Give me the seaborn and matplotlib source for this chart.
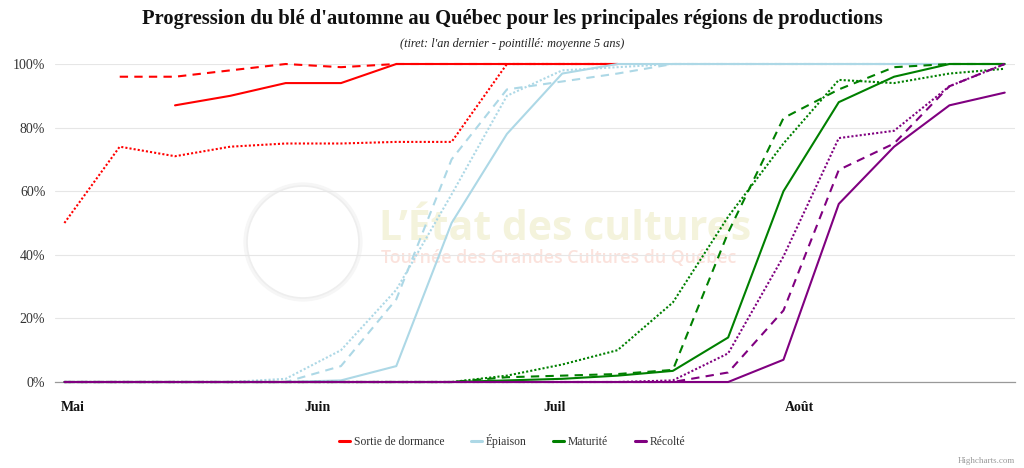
import matplotlib
matplotlib.use("Agg")
import matplotlib.pyplot as plt
import matplotlib.dates as mdates
from matplotlib.lines import Line2D
from matplotlib.patches import Circle
import seaborn as sns
import pandas as pd
import numpy as np

# ---------------- data ----------------
dates = ["2023-04-30", "2023-05-07", "2023-05-14", "2023-05-21", "2023-05-28",
         "2023-06-04", "2023-06-11", "2023-06-18", "2023-06-25", "2023-07-02",
         "2023-07-09", "2023-07-16", "2023-07-23", "2023-07-30", "2023-08-06",
         "2023-08-13", "2023-08-20", "2023-08-27"]

stages = ["Sortie de dormance", "Épiaison", "Maturité", "Récolté"]
kinds = ["actuel", "an dernier", "moyenne 5 ans"]

N = None
dormance_actuel = [N, N, 87, 90, 94, 94, 100, 100, 100, 100, 100, N, N, N, N, N, N, N]
dormance_dernier = [N, 96, 96, 98, 100, 99, 100, 100, 100, 100, 100, N, N, N, N, N, N, N]
dormance_moyenne = [50, 74, 71, 74, 75, 75, 75.5, 75.5, 100, 100, 100, N, N, N, N, N, N, N]

epiaison_actuel = [0, 0, 0, 0, 0, 0.5, 5, 50, 78, 97, 100, 100, 100, 100, 100, 100, 100, 100]
epiaison_dernier = [0, 0, 0, 0, 0, 5, 26, 70, 92, 94.5, 97, 100, 100, 100, 100, 100, 100, 100]
epiaison_moyenne = [0, 0, 0, 0, 1, 10, 29, 59, 90, 98, 99, 100, 100, 100, 100, 100, 100, 100]

maturite_actuel = [0, 0, 0, 0, 0, 0, 0, 0, 0.5, 1, 2, 3.5, 14, 60, 88, 96, 100, 100]
maturite_dernier = [0, 0, 0, 0, 0, 0, 0, 0, 1.5, 2, 2.5, 3.8, 47, 83, 92, 99, 100, 100]
maturite_moyenne = [0, 0, 0, 0, 0, 0, 0, 0, 2, 5.5, 10, 25, 52, 75, 95, 94, 97, 98.5]

recolte_actuel = [0, 0, 0, 0, 0, 0, 0, 0, 0, 0, 0, 0, 0, 7, 56, 74, 87, 91]
recolte_dernier = [0, 0, 0, 0, 0, 0, 0, 0, 0, 0, 0, 0, 3, 22.5, 66.7, 75, 93, 100]
recolte_moyenne = [0, 0, 0, 0, 0, 0, 0, 0, 0, 0, 0, 0.5, 9, 39.5, 76.7, 79, 93, 100]

series = {
    ("Sortie de dormance", "actuel"): dormance_actuel,
    ("Sortie de dormance", "an dernier"): dormance_dernier,
    ("Sortie de dormance", "moyenne 5 ans"): dormance_moyenne,
    ("Épiaison", "actuel"): epiaison_actuel,
    ("Épiaison", "an dernier"): epiaison_dernier,
    ("Épiaison", "moyenne 5 ans"): epiaison_moyenne,
    ("Maturité", "actuel"): maturite_actuel,
    ("Maturité", "an dernier"): maturite_dernier,
    ("Maturité", "moyenne 5 ans"): maturite_moyenne,
    ("Récolté", "actuel"): recolte_actuel,
    ("Récolté", "an dernier"): recolte_dernier,
    ("Récolté", "moyenne 5 ans"): recolte_moyenne,
}

rows = []
for (stage, kind), vals in series.items():
    for d, v in zip(dates, vals):
        if v is not None:
            rows.append({"date": pd.Timestamp(d), "valeur": v, "stade": stage, "type": kind})
df = pd.DataFrame(rows)

colors = {"Sortie de dormance": "#ff0000", "Épiaison": "#add8e6",
          "Maturité": "#008000", "Récolté": "#800080"}
dashes = {"actuel": "", "an dernier": (4, 3), "moyenne 5 ans": (1, 1)}

# ---------------- figure ----------------
sns.set_theme(style="white")
plt.rcParams["font.family"] = ["Liberation Serif", "DejaVu Serif"]

W, H = 1024, 468
fig = plt.figure(figsize=(W / 100, H / 100), dpi=100)
fig.patch.set_facecolor("white")

L, R, T, B = 55, 1015, 64, 382
ax = fig.add_axes([L / W, 1 - B / H, (R - L) / W, (B - T) / H])
ax.set_facecolor("none")
ax.set_zorder(2)

# watermark (behind the plot)
for r, c, lw in [(0.575, "#f6f6f6", 3.0), (0.56, "#eeeeee", 1.2)]:
    fig.add_artist(Circle((303 / 100, (H - 242) / 100), r, transform=fig.dpi_scale_trans,
                          facecolor="white", edgecolor=c, lw=lw, zorder=0))
fig.text(379 / W, 1 - 240 / H, "L\u2019État des cultures", fontsize=29.5,
         family=["Open Sans", "DejaVu Sans"], weight="bold",
         color="#f4f3dc", ha="left", va="baseline", zorder=0)
fig.text(381 / W, 1 - 258 / H, "Tournée des Grandes Cultures du Québec", fontsize=12.8,
         family=["Open Sans", "DejaVu Sans"], weight="semibold",
         color="#fbe2dc", ha="left", va="center", zorder=0)

sns.lineplot(data=df, x="date", y="valeur", hue="stade", style="type",
             hue_order=stages, style_order=kinds, palette=colors, dashes=dashes,
             estimator=None, errorbar=None, linewidth=1.5, legend=False, ax=ax,
             sort=True)
for ln in ax.lines:
    ln.set_clip_on(False)
    ln.set_zorder(3)

# axes
ax.set_ylim(0, 100)
ax.set_xlim(pd.Timestamp("2023-05-01") - pd.Timedelta(days=2.19),
            pd.Timestamp("2023-08-01") + pd.Timedelta(days=27.3))
ax.set_yticks([0, 20, 40, 60, 80, 100])
ax.set_yticklabels([f"{v}%" for v in [0, 20, 40, 60, 80, 100]])
ax.yaxis.grid(True, color="#e6e6e6", linewidth=0.8)
ax.xaxis.grid(False)
ax.set_axisbelow(True)
for s in ["left", "right", "top"]:
    ax.spines[s].set_visible(False)
ax.spines["bottom"].set_color("#999999")
ax.spines["bottom"].set_linewidth(0.9)
ax.spines["bottom"].set_zorder(1)

ax.xaxis.set_major_locator(mdates.MonthLocator())
month_names = {5: "Mai", 6: "Juin", 7: "Juil", 8: "Août"}
ax.xaxis.set_major_formatter(plt.FuncFormatter(lambda x, p: month_names.get(mdates.num2date(x).month, "")))
ax.tick_params(axis="x", which="major", direction="out", length=6, width=0.9,
               color="#888888", pad=8, labelsize=10)
for lab in ax.get_xticklabels():
    lab.set_fontweight("bold")
    lab.set_color("#111111")
ax.tick_params(axis="y", length=0, pad=7, labelsize=10, labelcolor="#333333")
ax.set_xlabel("")
ax.set_ylabel("")

# titles
fig.text(0.5, 1 - 19 / H,
         "Progression du blé d'automne au Québec pour les principales régions de productions",
         ha="center", va="center", fontsize=14.8, weight="bold", color="#111111")
fig.text(0.5, 1 - 44 / H, "(tiret: l'an dernier - pointillé: moyenne 5 ans)",
         ha="center", va="center", fontsize=8.8, style="italic", color="#222222")

# legend
handles = [Line2D([0], [0], color=colors[s], lw=2.2) for s in stages]
fig.legend(handles, stages, loc="center", bbox_to_anchor=(0.5, 1 - 441 / H), ncol=4,
           frameon=False, fontsize=8.4, handlelength=0.95, handletextpad=0.3,
           columnspacing=2.3, labelcolor="#333333")

fig.text(1015 / W, 1 - 461 / H, "Highcharts.com", ha="right", va="center",
         fontsize=6.5, color="#999999")

fig.savefig("out.png", dpi=100, facecolor="white")
